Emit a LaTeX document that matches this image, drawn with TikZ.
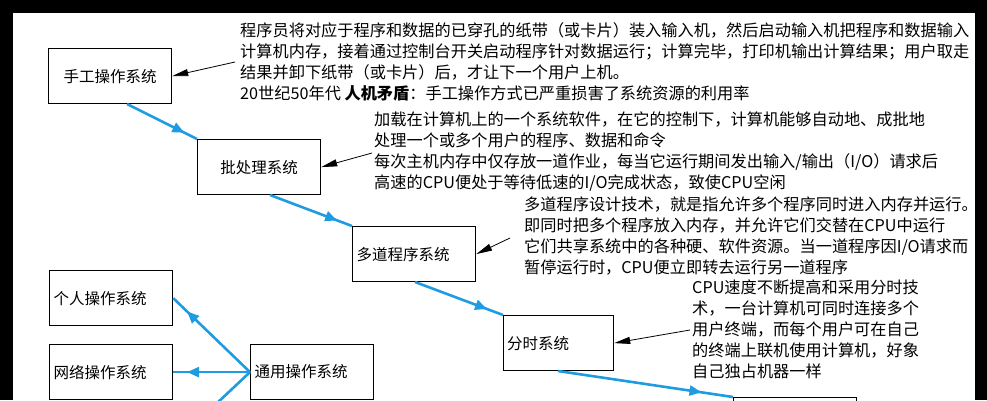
\documentclass[tikz,border=0pt]{standalone}
\usepackage{fontspec}
\setmainfont{Noto Sans CJK SC}
\usetikzlibrary{arrows.meta,decorations.markings}
\definecolor{sblue}{RGB}{30,155,225}

\begin{document}
\begin{tikzpicture}[x=1pt,y=-1pt,
  every node/.style={font=\fontsize{15.5}{21}\selectfont},
  sysbox/.style={draw,line width=1.2pt,minimum width=123pt,minimum height=55pt,anchor=north west,inner sep=3pt},
  note/.style={anchor=north west,align=left,inner sep=0pt,font=\fontsize{16.2}{21}\selectfont},
  pointer/.style={line width=0.8pt,-{Triangle[length=16pt,width=7pt]}},
  flow/.style={sblue,line width=2.6pt,postaction={decorate},
    decoration={markings,mark=at position 0.82 with {\arrow{Triangle[length=12pt,width=10pt]}}}}]
\useasboundingbox (0,0) rectangle (987,400);
\fill [black] (0,0) rectangle (987,13);
\fill [black] (0,0) rectangle (13,400);
\fill [black] (975,0) rectangle (987,400);
% systems
\node [sysbox] (manual) at (48,48) {手工操作系统};
\node [sysbox] (batch) at (197,139) {批处理系统};
\node [sysbox,text width=115pt] (multi) at (352,226) {多道程序系统};
\node [sysbox,minimum width=110pt,text width=103pt] (share) at (503,315) {分时系统};
\node [sysbox] (next) at (733,397) {};
\node [sysbox,text width=115pt] (pc) at (49,270) {个人操作系统};
\node [sysbox,text width=115pt] (net) at (49,344) {网络操作系统};
\node [sysbox,text width=115pt] (general) at (250,344) {通用操作系统};
% notes
\node [note] (n1) at (240,22) {程序员将对应于程序和数据的已穿孔的纸带（或卡片）装入输入机，然后启动输入机把程序和数据输入\\
计算机内存，接着通过控制台开关启动程序针对数据运行；计算完毕，打印机输出计算结果；用户取走\\
结果并卸下纸带（或卡片）后，才让下一个用户上机。\\
20世纪50年代 \textbf{人机矛盾}：手工操作方式已严重损害了系统资源的利用率};
\node [note] (n2) at (374,112) {加载在计算机上的一个系统软件，在它的控制下，计算机能够自动地、成批地\\
处理一个或多个用户的程序、数据和命令\\
每次主机内存中仅存放一道作业，每当它运行期间发出输入/输出（I/O）请求后\\
高速的CPU便处于等待低速的I/O完成状态，致使CPU空闲};
\node [note] (n3) at (524,197) {多道程序设计技术，就是指允许多个程序同时进入内存并运行。\\
即同时把多个程序放入内存，并允许它们交替在CPU中运行\\
它们共享系统中的各种硬、软件资源。当一道程序因I/O请求而\\
暂停运行时，CPU便立即转去运行另一道程序};
\node [note] (n4) at (692,280) {CPU速度不断提高和采用分时技\\
术，一台计算机可同时连接多个\\
用户终端，而每个用户可在自己\\
的终端上联机使用计算机，好象\\
自己独占机器一样};
% pointers
\coordinate (p1) at (235,62);
\coordinate (p2) at (372,153);
\coordinate (p3) at (510,238);
\coordinate (p4) at (690,330);
\draw [pointer] (p1) -- (manual.east);
\draw [pointer] (p2) -- (batch.east);
\draw [pointer] (p3) -- (multi.east);
\draw [pointer] (p4) -- (share.east);
% flow
\coordinate (down) at (215,405);
\draw [flow] (127,104) -- (batch.north west);
\draw [flow] (270,195) -- (multi.north west);
\draw [flow] (415,282) -- (share.north west);
\draw [flow] (558,371) -- (next.north west);
\draw [flow] (general.west) -- (pc.east);
\draw [flow] (general.west) -- (net.east);
\draw [sblue,line width=2.6pt] (general.west) -- (down);
\end{tikzpicture}
\end{document}
